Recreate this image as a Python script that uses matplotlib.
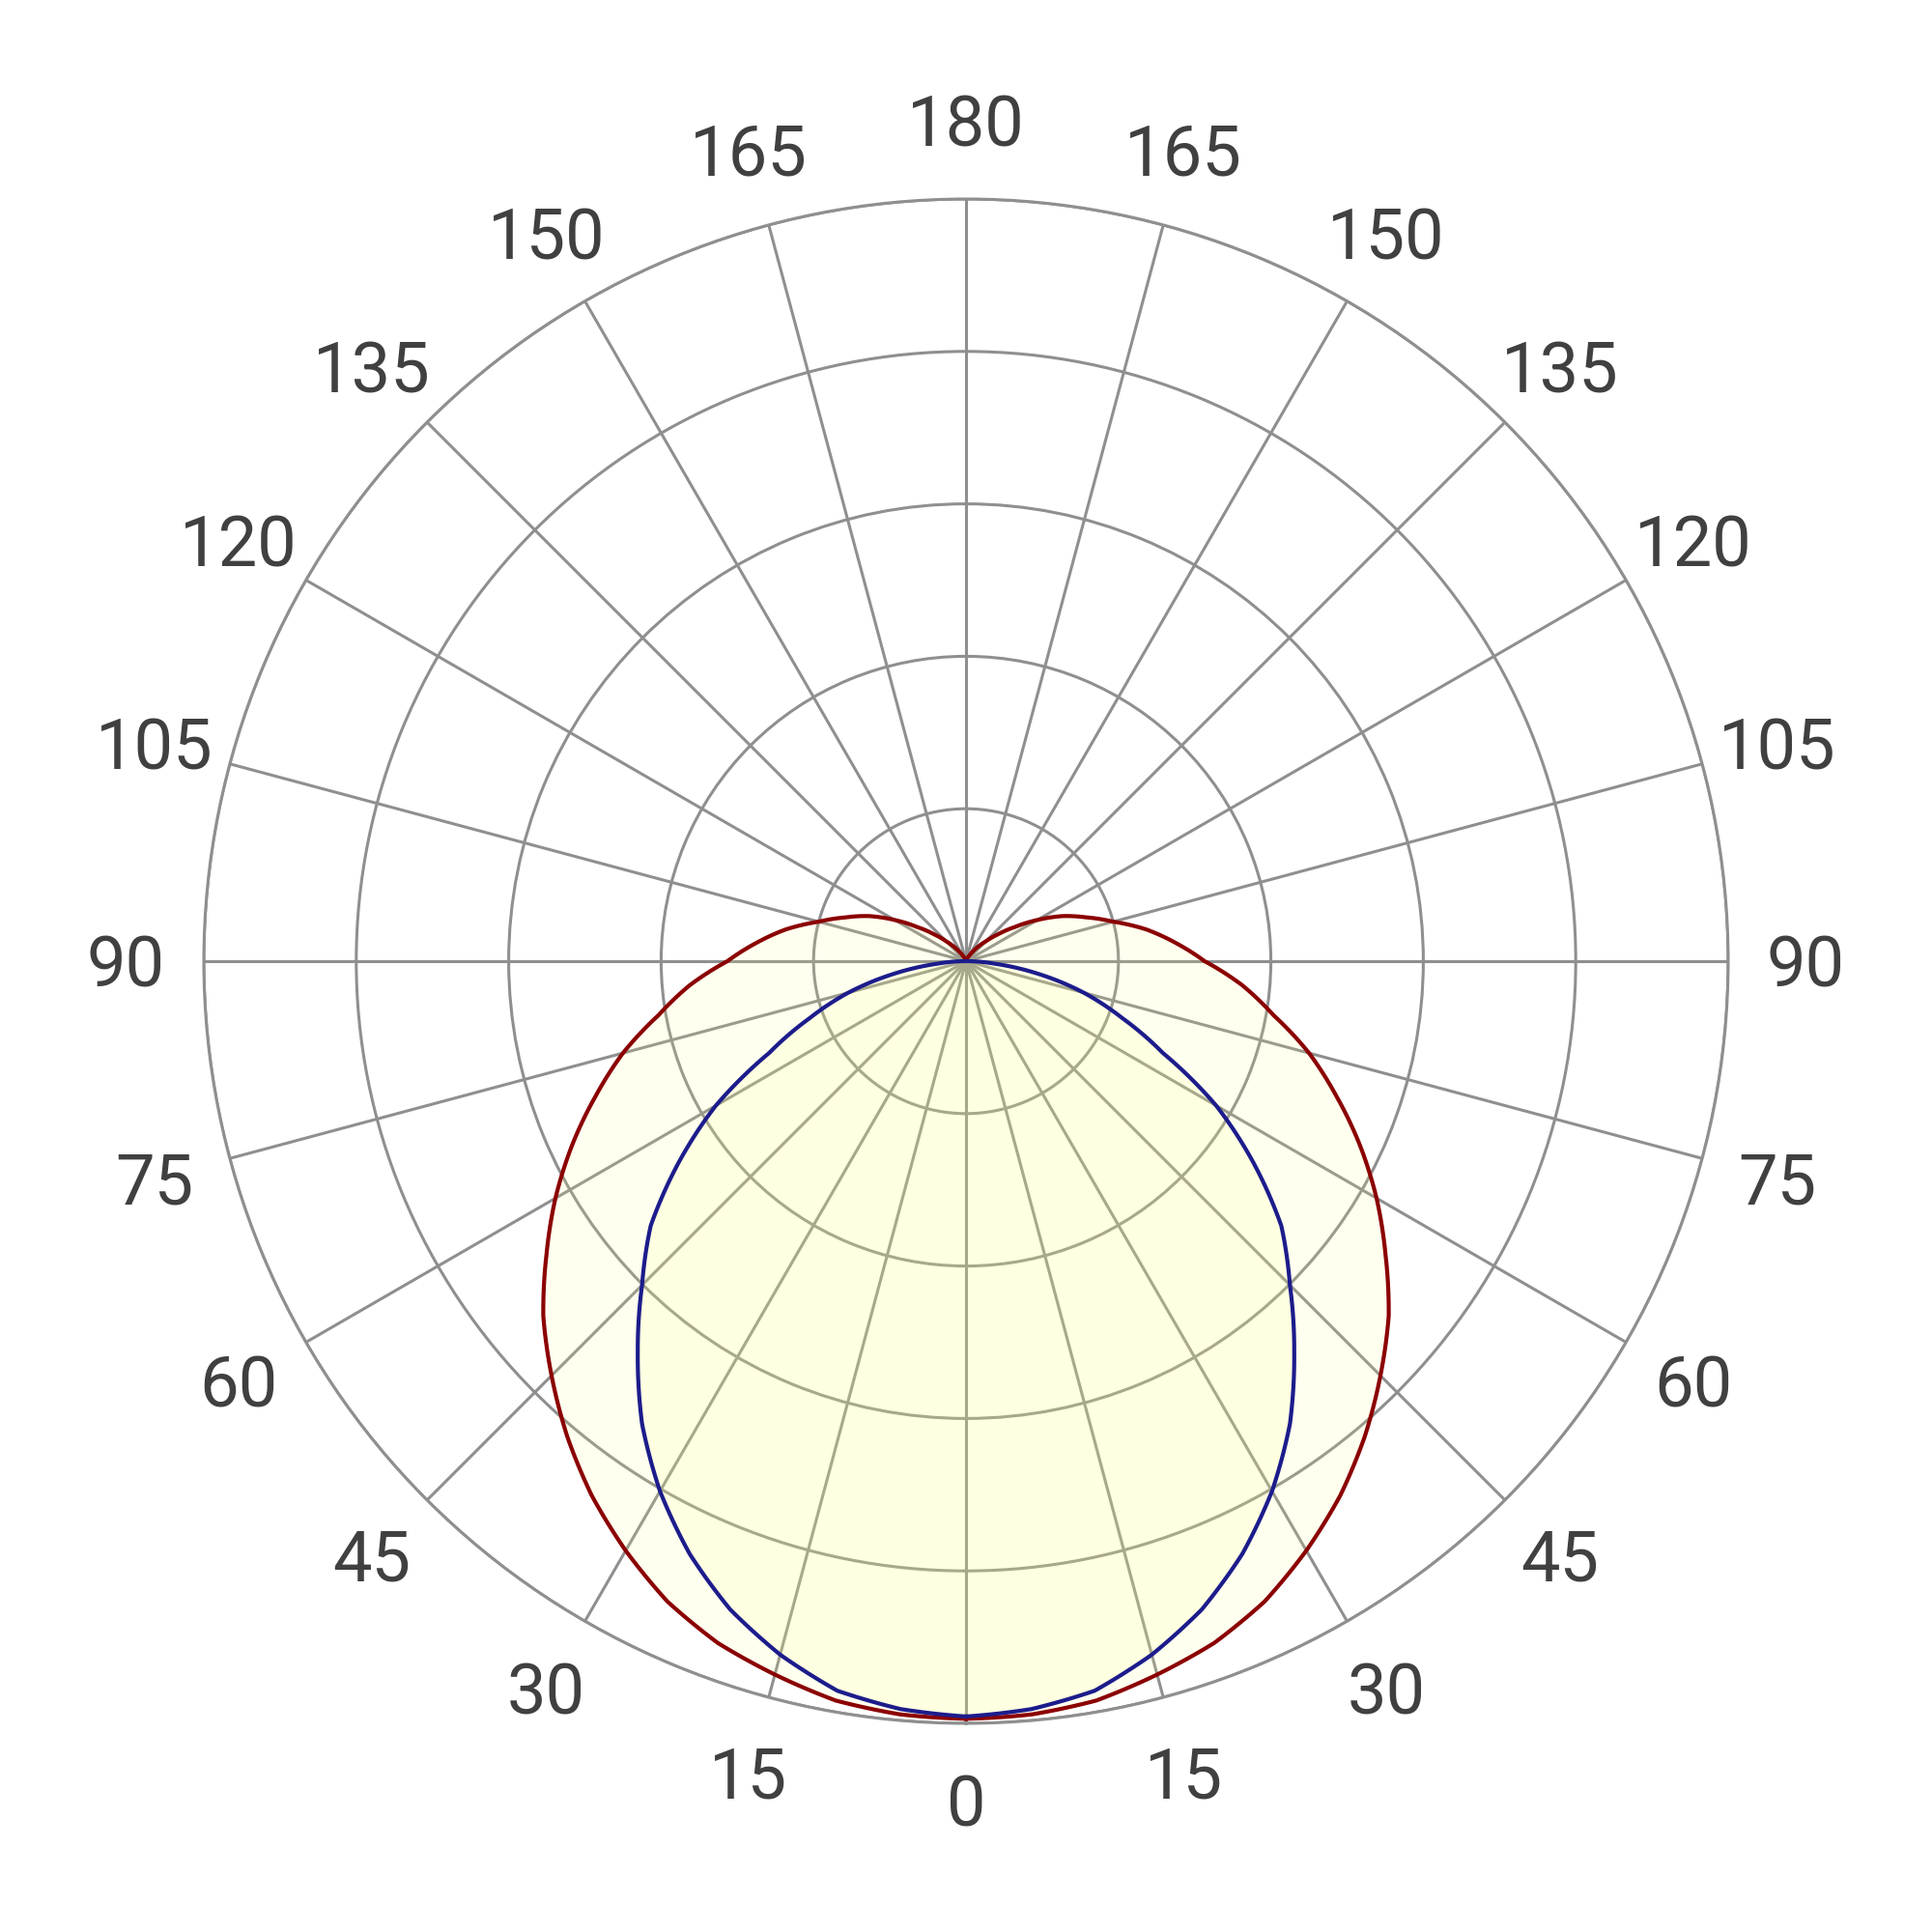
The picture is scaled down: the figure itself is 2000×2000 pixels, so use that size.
import numpy as np
import matplotlib.pyplot as plt
from matplotlib.transforms import offset_copy

# polar light distribution, values relative to max (outer ring = 1.0)
angles = np.arange(0, 181, 5)  # gamma angle, degrees from nadir

# C0 - C180 plane (red)
red_vals = [0.994, 0.992, 0.985, 0.969, 0.952, 0.927, 0.893, 0.856, 0.814, 0.769,
            0.724, 0.672, 0.622, 0.570, 0.517, 0.466, 0.410, 0.364, 0.313, 0.276,
            0.240, 0.200, 0.168, 0.140, 0.108, 0.078, 0.055, 0.037, 0.025, 0.015,
            0.008, 0.005, 0.003, 0.002, 0.001, 0.0, 0.0]

# C90 - C270 plane (blue)
blue_vals = [0.991, 0.985, 0.972, 0.942, 0.905, 0.858, 0.803, 0.741, 0.670, 0.601,
             0.540, 0.460, 0.379, 0.285, 0.218, 0.160, 0.097, 0.037, 0.0, 0.0,
             0.0, 0.0, 0.0, 0.0, 0.0, 0.0, 0.0, 0.0, 0.0, 0.0,
             0.0, 0.0, 0.0, 0.0, 0.0, 0.0, 0.0]

ring_levels = [0.2, 0.4, 0.6, 0.8, 1.0]
tick_angles = np.arange(0, 360, 15)
tick_labels = [str(a if a <= 180 else 360 - a) for a in tick_angles]

GRID = '#8f8f8f'
TEXT = '#404040'


def mirror(vals):
    # symmetric curve: right half then left half
    v = np.array(vals)
    th = np.concatenate((angles, 360 - angles[::-1][1:]))
    r = np.concatenate((v, v[::-1][1:]))
    return np.deg2rad(th), r


fig = plt.figure(figsize=(10, 10), dpi=200)
ax = fig.add_axes([0.1055, 0.108, 0.789, 0.789], projection='polar')
ax.set_theta_zero_location('S')
ax.set_ylim(0, 1.0)
ax.set_axisbelow(True)

ax.set_rgrids(ring_levels, labels=[])
ax.set_thetagrids(tick_angles, labels=[])
ax.grid(True, color=GRID, linewidth=1.1)
ax.spines['polar'].set_color(GRID)
ax.spines['polar'].set_linewidth(1.1)

# angle labels just outside the outer ring (nudged down a little so digits sit centred)
lab_trans = offset_copy(ax.transData, fig=fig, y=-2.5, units='points')
for a, lab in zip(tick_angles, tick_labels):
    ax.text(np.deg2rad(a), 1.102, lab, ha='center', va='center', fontsize=26,
            color=TEXT, family='Roboto', clip_on=False, transform=lab_trans)

th_r, r_r = mirror(red_vals)
th_b, r_b = mirror(blue_vals)

fills = ax.fill(th_r, r_r, color='#ffff80', alpha=0.12, linewidth=0, zorder=2)
fills += ax.fill(th_b, r_b, color='#ffff80', alpha=0.12, linewidth=0, zorder=2)
lines = ax.plot(th_r, r_r, color='#8b0000', linewidth=1.5, zorder=3)
lines += ax.plot(th_b, r_b, color='#1c1c8c', linewidth=1.5, zorder=3)

# let the polar transform draw curved segments between the measured angles
for art in fills:
    art.get_path()._interpolation_steps = 20
for ln in lines:
    ln.get_path()._interpolation_steps = 20

fig.savefig('out.png', dpi=200, facecolor='white')
